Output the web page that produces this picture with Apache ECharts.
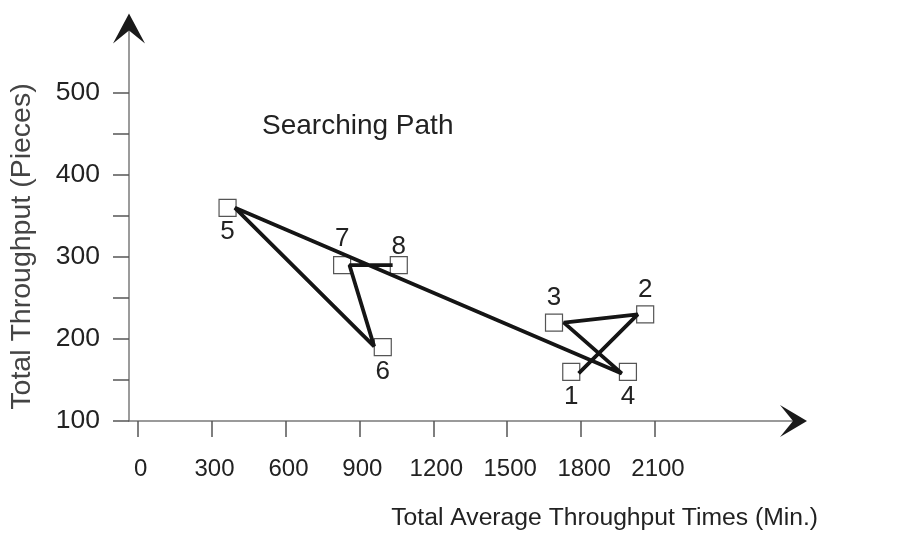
<!DOCTYPE html>
<html>
<head>
<meta charset="utf-8">
<script src="https://cdn.jsdelivr.net/npm/echarts@6/dist/echarts.min.js"></script>
<style>html,body{margin:0;padding:0;background:#fff;}#c{width:901px;height:539px;}</style>
</head>
<body>
<div id="c"></div>
<script>
// ---- data ----
const steps = ['1', '2', '3', '4', '5', '6', '7', '8'];
// square markers (Total Average Throughput Times, Total Throughput)
const markerX = [1760, 2060, 1690, 1990, 365, 995, 830, 1060];
const markerY = [160, 230, 220, 160, 360, 190, 290, 290];
// searching path vertices, in step order
const pathX = [1790, 2030, 1730, 1965, 395, 960, 860, 1035];
const pathY = [158, 230, 220, 158, 360, 191, 290, 290];
const xTicks = [0, 300, 600, 900, 1200, 1500, 1800, 2100];
const yTicks = [100, 150, 200, 250, 300, 350, 400, 450, 500];
const yLabels = [100, 200, 300, 400, 500];
const xTitle = 'Total Average Throughput Times (Min.)';
const yTitle = 'Total Throughput (Pieces)';
const noteText = 'Searching Path';

// ---- styling ----
const FONT = "'Liberation Sans', Arial, Helvetica, sans-serif";
const labelSide = ['bottom', 'top', 'top', 'bottom', 'bottom', 'bottom', 'top', 'top'];
const labelDist = [2.5, 2, 3, 2.5, 2, 2.5, 4.5, -3.5];

const chart = echarts.init(document.getElementById('c'), null, {renderer: 'canvas'});

const markerData = steps.map((s, i) => ({
  value: [markerX[i], markerY[i]],
  name: s,
  label: {position: labelSide[i], distance: labelDist[i]}
}));
const pathData = steps.map((s, i) => [pathX[i], pathY[i]]);

const X_MIN = -35, X_MAX = 2660, Y_MIN = 100, Y_MAX = 580;

chart.setOption({
  animation: false,
  backgroundColor: '#fff',
  grid: {left: 129, width: 664, top: 27.4, height: 393.6, containLabel: false},
  xAxis: {
    type: 'value', min: X_MIN, max: X_MAX,
    splitLine: {show: false},
    axisLine: {show: true, onZero: false, lineStyle: {color: '#7a7a7a', width: 1.5}},
    axisTick: {show: true, customValues: xTicks, length: 16, lineStyle: {color: '#555', width: 1.5}},
    axisLabel: {customValues: xTicks, margin: 36, color: '#222', fontSize: 24, fontFamily: FONT,
      padding: [0, 0, 0, 6], formatter: v => String(v)}
  },
  yAxis: {
    type: 'value', min: Y_MIN, max: Y_MAX,
    splitLine: {show: false},
    axisLine: {show: true, onZero: false, lineStyle: {color: '#7a7a7a', width: 1.5}},
    axisTick: {show: true, customValues: yTicks, length: 16, lineStyle: {color: '#555', width: 1.5}},
    axisLabel: {customValues: yLabels, margin: 29, color: '#222', fontSize: 26.5, fontFamily: FONT,
      formatter: v => String(v)}
  },
  series: [
    {
      type: 'scatter',
      data: markerData,
      symbol: 'rect',
      symbolSize: 17,
      z: 2,
      itemStyle: {color: '#fff', borderColor: '#555', borderWidth: 1.2, opacity: 1},
      label: {show: true, formatter: '{b}', color: '#222', fontSize: 26, fontFamily: FONT}
    },
    {
      type: 'line',
      data: pathData,
      showSymbol: false,
      symbol: 'none',
      z: 3,
      lineStyle: {color: '#151515', width: 3.8}
    }
  ]
});

// arrowheads placed at the ends of the axes
const xEnd = chart.convertToPixel({gridIndex: 0}, [X_MAX, Y_MIN]);
const yEnd = chart.convertToPixel({gridIndex: 0}, [X_MIN, Y_MAX]);
const tx = xEnd[0] + 14, ty = xEnd[1];
const ux = yEnd[0], uy = yEnd[1] - 14;

chart.setOption({
  graphic: [
    {type: 'polygon', z: 10, shape: {points: [[tx, ty], [tx - 27, ty - 16], [tx - 14, ty], [tx - 27, ty + 16]]}, style: {fill: '#1a1a1a'}},
    {type: 'polygon', z: 10, shape: {points: [[ux, uy], [ux - 16, uy + 30], [ux, uy + 17], [ux + 16, uy + 30]]}, style: {fill: '#1a1a1a'}},
    {type: 'text', x: 262, y: 126, style: {text: noteText, font: '28px ' + FONT, fill: '#222', textAlign: 'left', textVerticalAlign: 'middle'}},
    {type: 'text', x: 818, y: 518, style: {text: xTitle, font: '24.7px ' + FONT, fill: '#222', textAlign: 'right', textVerticalAlign: 'middle'}},
    {type: 'text', x: 22.5, y: 246.5, rotation: Math.PI / 2, style: {text: yTitle, font: '28.5px ' + FONT, fill: '#444', textAlign: 'center', textVerticalAlign: 'middle'}}
  ]
});
</script>
</body>
</html>
